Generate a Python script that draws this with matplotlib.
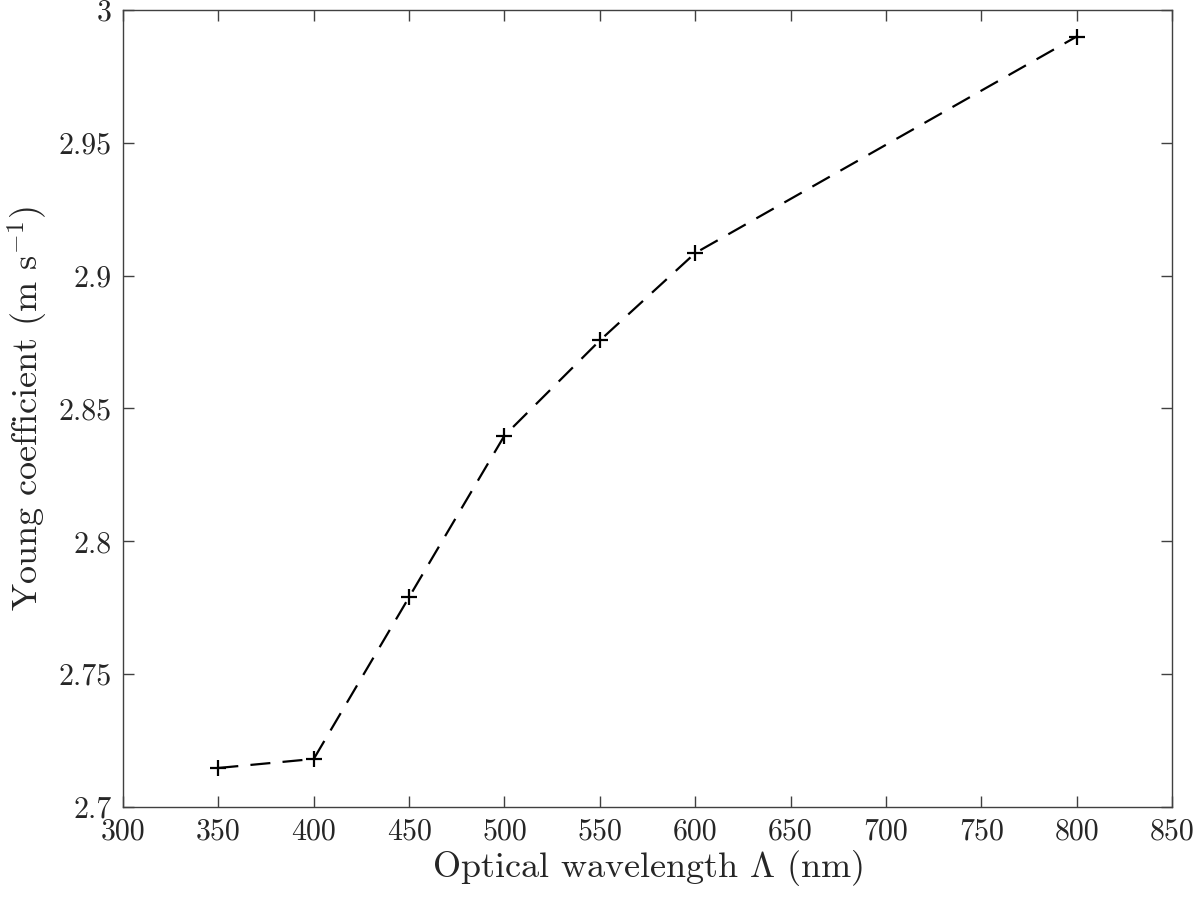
import matplotlib
matplotlib.use("Agg")
import matplotlib.pyplot as plt

# data
wavelength = [350, 400, 450, 500, 550, 600, 800]
young = [2.7147, 2.7181, 2.7790, 2.8398, 2.8756, 2.9085, 2.9900]

xticks = [300, 350, 400, 450, 500, 550, 600, 650, 700, 750, 800, 850]
yticks = [2.7, 2.75, 2.8, 2.85, 2.9, 2.95, 3.0]
ytick_labels = ['2.7', '2.75', '2.8', '2.85', '2.9', '2.95', '3']

plt.rcParams['font.family'] = 'cmr10'
plt.rcParams['mathtext.fontset'] = 'cm'
plt.rcParams['axes.formatter.use_mathtext'] = True

fig = plt.figure(figsize=(12, 8.97), dpi=100)
ax = fig.add_axes([0.1025, 0.1003, 0.8742, 0.8886])

ax.plot(wavelength, young, color='black', linestyle=(0, (9, 5.5)), linewidth=1.6,
        marker='+', markersize=12, markeredgewidth=1.6)

ax.set_xlim(300, 850)
ax.set_ylim(2.7, 3.0)
ax.set_xticks(xticks)
ax.set_xticklabels([str(t) for t in xticks])
ax.set_yticks(yticks)
ax.set_yticklabels(ytick_labels)

for s in ax.spines.values():
    s.set_color('#404040')
    s.set_linewidth(1.0)
ax.tick_params(direction='in', length=8, width=1.0, colors='#404040',
               labelsize=21.5, top=True, right=True, pad=8)
for lab in ax.get_xticklabels() + ax.get_yticklabels():
    lab.set_color('#262626')

ax.set_xlabel(r'Optical wavelength $\Lambda$ (nm)', fontsize=26, color='#262626', labelpad=2)
ax.set_ylabel(r'Young coefficient (m s$^{-1}$)', fontsize=26, color='#262626', labelpad=6)

fig.savefig('out.png', dpi=100)
